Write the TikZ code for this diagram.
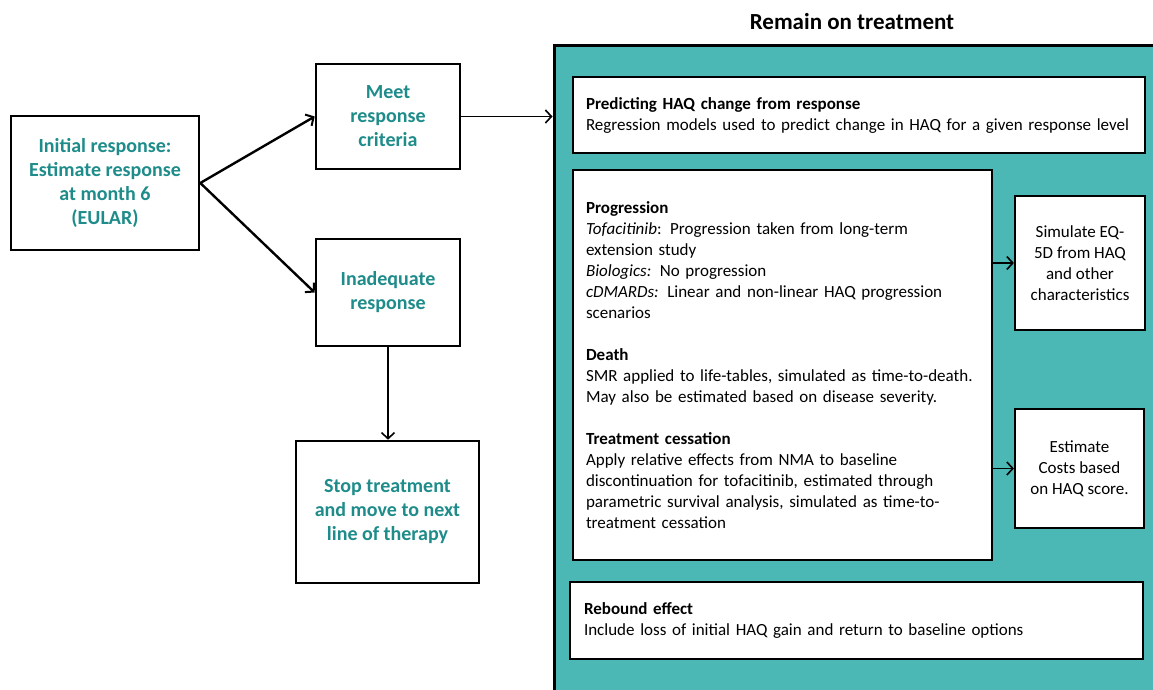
\documentclass[tikz,border=0pt]{standalone}
\usepackage{fontspec}
\setmainfont{Carlito}
\usetikzlibrary{arrows.meta}
\definecolor{tealfill}{HTML}{4BB8B6}
\definecolor{tealtext}{HTML}{1E8C8A}
\tikzset{
  flow/.style={draw, line width=2.6pt, fill=white, align=center, text=tealtext,
    font=\fontsize{20}{24}\selectfont\bfseries, inner sep=0pt},
  info/.style={draw, line width=2.2pt, fill=white, align=left,
    font=\fontsize{17}{21}\selectfont, inner ysep=0pt},
  side/.style={draw, line width=2.2pt, fill=white, align=center,
    font=\fontsize{17}{21}\selectfont, inner sep=0pt},
  arr/.style={-{Straight Barb[length=6pt,width=13pt,line width=1.6pt]}, line width=1.4pt},
  thickarr/.style={-{Straight Barb[length=6pt,width=13pt,line width=2pt]}, line width=2.4pt},
}
\begin{document}
\begin{tikzpicture}[x=1pt,y=-1pt]
\useasboundingbox (0,0) rectangle (1153,689);
\fill[white] (0,0) rectangle (1153,689);
\begin{scope}
\clip (0,0) rectangle (1153,689);
\node[draw, line width=3pt, fill=tealfill, minimum width=606pt, minimum height=655pt, inner sep=0pt] (teal) at (857,372.5) {};
\end{scope}
\node[font=\fontsize{23}{26}\selectfont\bfseries] (title) at (852,22) {Remain on treatment};

\node[flow, minimum width=188pt, minimum height=134pt] (init) at (105,183)
  {Initial response:\\Estimate response\\at month 6\\(EULAR)};
\node[flow, minimum width=144pt, minimum height=105pt] (meet) at (388,116.5)
  {Meet\\response\\criteria};
\node[flow, minimum width=144pt, minimum height=107pt] (inad) at (388,292.5)
  {Inadequate\\response};
\node[flow, minimum width=183pt, minimum height=142pt] (stop) at (387.5,512)
  {Stop treatment\\and move to next\\line of therapy};

\node[info, text width=546pt, inner xsep=13pt, minimum height=76pt] (pred) at (859,115)
  {\textbf{Predicting HAQ change from response}\\Regression models used to predict change in HAQ for a given response level};
\node[info, text width=393pt, inner xsep=13pt, minimum height=390pt] (prog) at (782.5,365)
  {\textbf{Progression}\\
   \textit{Tofacitinib}: Progression taken from long-term\\
   extension study\\
   \textit{Biologics:} No progression\\
   \textit{cDMARDs:} Linear and non-linear HAQ progression\\
   scenarios\\[21pt]
   \textbf{Death}\\
   SMR applied to life-tables, simulated as time-to-death.\\
   May also be estimated based on disease severity.\\[21pt]
   \textbf{Treatment cessation}\\
   Apply relative effects from NMA to baseline\\
   discontinuation for tofacitinib, estimated through\\
   parametric survival analysis, simulated as time-to-\\
   treatment cessation};
\node[side, minimum width=130pt, minimum height=134pt] (sim) at (1080,263)
  {Simulate EQ-\\5D from HAQ\\and other\\characteristics};
\node[side, minimum width=129pt, minimum height=119pt] (cost) at (1079.5,468.5)
  {Estimate\\Costs based\\on HAQ score.};
\node[info, text width=545pt, inner xsep=14pt, minimum height=77pt] (rebound) at (856.5,620.5)
  {\textbf{Rebound effect}\\Include loss of initial HAQ gain and return to baseline options};

\draw[thickarr] (init.east) -- (meet.west);
\draw[thickarr] (init.east) -- (inad.west);
\draw[arr] (meet.east) -- (meet.east -| teal.west);
\draw[arr] (inad.south) -- (inad.south |- stop.north);
\draw[arr] (prog.east |- sim.west) -- (sim.west);
\draw[arr] (prog.east |- cost.west) -- (cost.west);
\end{tikzpicture}
\end{document}
